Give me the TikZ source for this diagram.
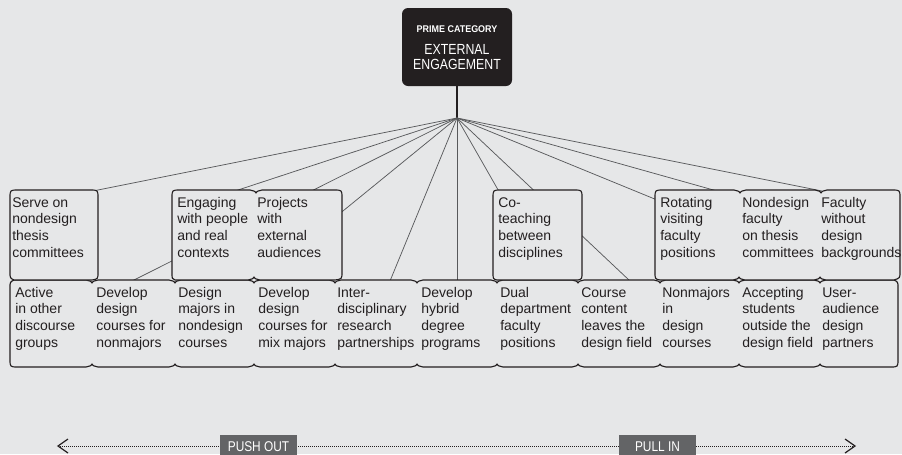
\documentclass[tikz,border=0pt]{standalone}
\usepackage{fontspec}
\setmainfont{Liberation Sans}
\newfontfamily\condfont[FakeStretch=0.84]{Liberation Sans}
\newfontfamily\capfont[FakeStretch=0.92]{Liberation Sans}
\definecolor{bg}{HTML}{E6E7E8}
\definecolor{ink}{HTML}{231F20}
\definecolor{fan}{HTML}{58595B}
\definecolor{lab}{HTML}{636466}
\tikzset{
  boxline/.style={draw=ink, line width=0.85pt, fill=bg, line join=round},
  fanline/.style={draw=fan, line width=0.55pt},
  celltext/.style={anchor=north west, inner sep=0pt, align=left, text=ink,
    font=\fontsize{10.5}{12.5}\selectfont},
  titletext/.style={anchor=base, inner sep=0pt, text=white},
  labbox/.style={fill=lab, inner sep=0pt, anchor=north west, minimum width=57.75pt, minimum height=22pt},
  labtext/.style={anchor=base, inner sep=0pt, text=white, font=\condfont\fontsize{10.6}{12}\selectfont},
  dotline/.style={draw=ink, line width=0.75pt, dash pattern=on 0.55pt off 0.95pt},
  chev/.style={draw=ink, line width=0.9pt, line join=miter}
}
\begin{document}
\begin{tikzpicture}[x=0.75pt,y=-0.75pt]
\useasboundingbox (0,0) rectangle (902,454);
\clip (0,0) rectangle (902,454);
\fill[bg] (0,0) rectangle (902,454);

% title box
\node (title) [fill=ink, rounded corners=4.5pt, minimum width=82.5pt, minimum height=58.5pt, inner sep=0pt] at (457,47) {};
\node (ptitle) [titletext, font=\capfont\bfseries\fontsize{7.3}{8}\selectfont] at (457,32) {PRIME CATEGORY};
\node (etitle) [titletext, font=\condfont\fontsize{11}{12}\selectfont] at (457,54) {EXTERNAL};
\node (gtitle) [titletext, font=\condfont\fontsize{11}{12}\selectfont] at (457,69) {ENGAGEMENT};

% hub and fan lines
\coordinate (hub) at (457,118);
\draw[draw=ink, line width=0.9pt] (title.south) -- (hub);
\coordinate (e1) at (93,191);
\coordinate (e2) at (235,191);
\coordinate (e3) at (132,281);
\coordinate (e4) at (300,246);
\coordinate (e5) at (390,281);
\coordinate (e6) at (457,281);
\coordinate (e7) at (501,195);
\coordinate (e8) at (630,281);
\coordinate (e9) at (662,202);
\coordinate (e10) at (717,191);
\coordinate (e11) at (822,191);
\foreach \n in {e1,e2,e3,e4,e5,e6,e7,e8,e9,e10,e11} \draw[fanline] (hub) -- (\n);

% lower row
\draw[boxline] (10,288) .. controls (10,282) .. (14,280)
  \foreach \xb in {92,175,254,335,417,497,578,660,739,820} {
    -- ({\xb-6},280) .. controls ({\xb-3},280) and (\xb,282) .. (\xb,283)
    .. controls (\xb,282) and ({\xb+3},280) .. ({\xb+6},280) }
  -- (894,280) .. controls (898,282) .. (898,288) -- (898,359) .. controls (898,367) .. (890,367)
  \foreach \xb in {820,739,660,578,497,417,335,254,175,92} {
    -- ({\xb+6},367) .. controls ({\xb+3},367) and (\xb,365) .. (\xb,364)
    .. controls (\xb,365) and ({\xb-3},367) .. ({\xb-6},367) }
  -- (18,367) .. controls (10,367) .. (10,359) -- cycle;

% upper boxes
\draw[boxline] (10,198) .. controls (10,190) .. (18,190) -- (90,190) .. controls (98,190) .. (98,198)
  -- (98,272) .. controls (98,279) .. (92,280) -- (14,280) .. controls (10,278) .. (10,272) -- cycle;
\draw[boxline] (172,198) .. controls (172,190) .. (180,190) -- (250,190)
  .. controls (253,190) and (256,192) .. (256,193) .. controls (256,192) and (259,190) .. (262,190)
  -- (334,190) .. controls (342,190) .. (342,198) -- (342,272) .. controls (342,279) .. (335,280)
  -- (260,280) .. controls (257,280) and (254,278) .. (254,277) .. controls (254,278) and (251,280) .. (248,280)
  -- (175,280) .. controls (172,279) .. (172,272) -- cycle;
\draw[boxline] (493,198) .. controls (493,190) .. (501,190) -- (574,190) .. controls (582,190) .. (582,198)
  -- (582,272) .. controls (582,279) .. (578,280) -- (497,280) .. controls (493,279) .. (493,272) -- cycle;
\draw[boxline] (655,198) .. controls (655,190) .. (663,190) -- (734,190)
  .. controls (737,190) and (740,192) .. (740,193) .. controls (740,192) and (743,190) .. (746,190)
  -- (815,190) .. controls (818,190) and (821,192) .. (821,193) .. controls (821,192) and (824,190) .. (827,190)
  -- (892,190) .. controls (900,190) .. (900,198) -- (900,272) .. controls (900,278) .. (894,280)
  -- (826,280) .. controls (823,280) and (820,278) .. (820,277) .. controls (820,278) and (817,280) .. (814,280)
  -- (745,280) .. controls (742,280) and (739,278) .. (739,277) .. controls (739,278) and (736,280) .. (733,280)
  -- (660,280) .. controls (655,279) .. (655,272) -- cycle;

% upper texts
\node[celltext] (u1) at (12,195.3) {\strut Serve on\\nondesign\\thesis\\committees};
\node[celltext] (u2) at (177,195.3) {\strut Engaging\\with people\\and real\\contexts};
\node[celltext] (u3) at (257,195.3) {\strut Projects\\with\\external\\audiences};
\node[celltext] (u4) at (498,195.3) {\strut Co-\\teaching\\between\\disciplines};
\node[celltext] (u5) at (660,195.3) {\strut Rotating\\visiting\\faculty\\positions};
\node[celltext] (u6) at (742,195.3) {\strut Nondesign\\faculty\\on thesis\\committees};
\node[celltext] (u7) at (821,195.3) {\strut Faculty\\without\\design\\backgrounds};

% lower texts
\node[celltext] (l1) at (15,285.3) {\strut Active\\in other\\discourse\\groups};
\node[celltext] (l2) at (96,285.3) {\strut Develop\\design\\courses for\\nonmajors};
\node[celltext] (l3) at (178,285.3) {\strut Design\\majors in\\nondesign\\courses};
\node[celltext] (l4) at (258,285.3) {\strut Develop\\design\\courses for\\mix majors};
\node[celltext] (l5) at (337,285.3) {\strut Inter-\\disciplinary\\research\\partnerships};
\node[celltext] (l6) at (421,285.3) {\strut Develop\\hybrid\\degree\\programs};
\node[celltext] (l7) at (500,285.3) {\strut Dual\\department\\faculty\\positions};
\node[celltext] (l8) at (581,285.3) {\strut Course\\content\\leaves the\\design field};
\node[celltext] (l9) at (662,285.3) {\strut Nonmajors\\in\\design\\courses};
\node[celltext] (l10) at (742,285.3) {\strut Accepting\\students\\outside the\\design field};
\node[celltext] (l11) at (822,285.3) {\strut User-\\audience\\design\\partners};

% push / pull axis
\coordinate (la) at (58,446);
\coordinate (ra) at (855,446);
\draw[dotline] (la) -- (ra);
\draw[chev] ([shift={(10,-7)}]la) -- (la) -- ([shift={(10,7)}]la);
\draw[chev] ([shift={(-10,-7)}]ra) -- (ra) -- ([shift={(-10,7)}]ra);
\node (pushbox) [labbox] at (220,435) {};
\node (pushtxt) [labtext] at (258.5,451.5) {PUSH OUT};
\node (pullbox) [labbox] at (619,435) {};
\node (pulltxt) [labtext] at (657.5,451.5) {PULL IN};
\end{tikzpicture}
\end{document}
